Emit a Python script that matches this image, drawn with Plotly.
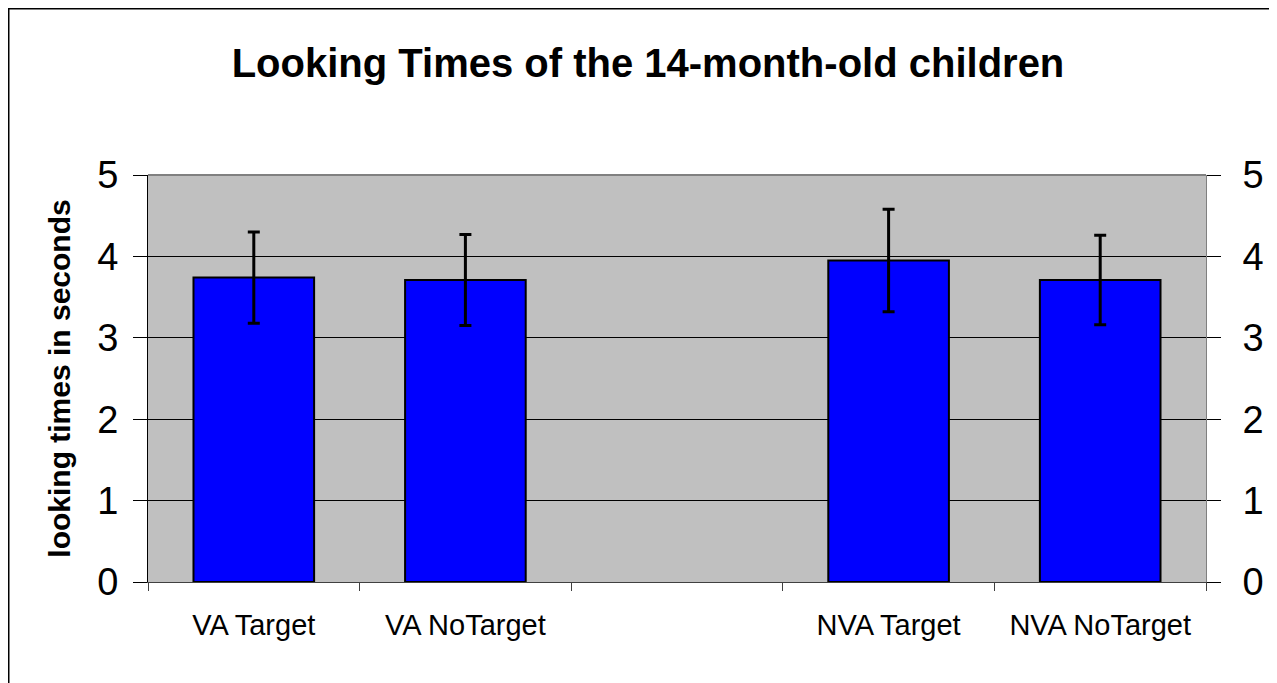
import plotly.graph_objects as go

# data
categories = ["VA Target", "VA NoTarget", " ", "NVA Target", "NVA NoTarget"]
looking_times = [3.74, 3.71, None, 3.95, 3.71]
error_sd = [0.56, 0.56, None, 0.63, 0.55]
y_ticks = [0, 1, 2, 3, 4, 5]

FONT = "Arial, Liberation Sans, sans-serif"

fig = go.Figure()

fig.add_trace(go.Bar(
    x=categories,
    y=looking_times,
    width=0.57,
    marker=dict(color="#0000FF", line=dict(color="black", width=2)),
    error_y=dict(type="data", array=error_sd, visible=True,
                 color="black", thickness=3, width=6),
    showlegend=False,
    hoverinfo="x+y",
))
# invisible copy so the right-hand axis gets drawn
fig.add_trace(go.Scatter(
    x=categories, y=looking_times, yaxis="y2",
    mode="markers", marker=dict(opacity=0),
    showlegend=False, hoverinfo="skip",
))

# page body adds ~8px offset, margins compensate
fig.update_layout(
    width=1277, height=683,
    margin=dict(l=140, r=79, t=167, b=109),
    paper_bgcolor="white",
    plot_bgcolor="#C0C0C0",
    font=dict(family=FONT, color="black"),
    title=dict(text="<b>Looking Times of the 14-month-old children</b>",
               x=0.4726, xref="paper", xanchor="center",
               y=1 - 55 / 683, yref="container", yanchor="middle",
               font=dict(size=40)),
    showlegend=False,
)

fig.update_xaxes(
    type="category",
    categoryorder="array", categoryarray=categories,
    range=[-0.5, 4.5],
    tickson="boundaries",
    ticks="outside", ticklen=8, tickcolor="#404040",
    showline=True, linecolor="#404040", linewidth=1,
    showgrid=False, automargin=False,
    tickfont=dict(size=29),
    ticklabelstandoff=17,
)

fig.update_yaxes(
    range=[0, 5], tickvals=y_ticks,
    ticks="outside", ticklen=14, tickcolor="black",
    showline=True, linecolor="black", linewidth=1,
    showgrid=True, gridcolor="black", gridwidth=1,
    zeroline=False, automargin=False,
    tickfont=dict(size=38),
    ticklabelstandoff=7,
    title=dict(text="<b>looking times in seconds</b>", font=dict(size=30),
               standoff=17),
)

fig.update_layout(yaxis2=dict(
    overlaying="y", side="right", anchor="x",
    range=[0, 5], tickvals=y_ticks,
    ticks="outside", ticklen=14, tickcolor="black",
    showline=True, linecolor="#808080", linewidth=1,
    showgrid=False, zeroline=False, automargin=False,
    tickfont=dict(size=38),
    ticklabelstandoff=14,
))

# grey top edge of the plot area
fig.add_shape(type="line", xref="paper", yref="paper",
              x0=0, x1=1, y0=1, y1=1,
              line=dict(color="#808080", width=2), layer="above")

# black frame round the whole chart
fig.add_shape(type="rect", xref="paper", yref="paper",
              x0=(0.75 - 140) / 1058, x1=(1300 - 140) / 1058,
              y0=(574 - 720) / 407, y1=(574 - 0.75) / 407,
              line=dict(color="black", width=1.5),
              layer="below")

fig.write_html("out.html")
